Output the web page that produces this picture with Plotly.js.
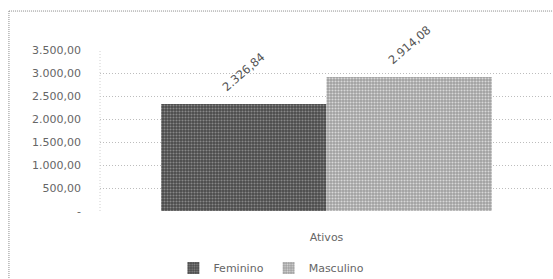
<!DOCTYPE html>
<html><head><meta charset="utf-8">
<script src="https://cdn.plot.ly/plotly-3.0.1.min.js"></script>
<style>html,body{margin:0;padding:0;background:#fff}#c{width:553px;height:279px}</style>
</head><body><div id="c"></div>
<script>
var categories = ["Ativos"];
var seriesNames = ["Feminino", "Masculino"];
var feminino = [2326.84];
var masculino = [2914.08];
var femininoLabels = ["2.326,84"];
var masculinoLabels = ["2.914,08"];
var tickVals = [0, 500, 1000, 1500, 2000, 2500, 3000, 3500];
var tickText = ["-", "500,00", "1.000,00", "1.500,00", "2.000,00", "2.500,00", "3.000,00", "3.500,00"];

var font = "'DejaVu Sans', sans-serif";
var traces = [
  {type: "bar", name: seriesNames[0], x: categories, y: feminino,
   marker: {color: "#5a5a5a", pattern: {shape: ".", fgcolor: "#888888", bgcolor: "#4a4a4a", size: 3, solidity: 0.4}},
   hoverinfo: "none"},
  {type: "bar", name: seriesNames[1], x: categories, y: masculino,
   marker: {color: "#b2b2b2", pattern: {shape: ".", fgcolor: "#d8d8d8", bgcolor: "#a0a0a0", size: 3, solidity: 0.4}},
   hoverinfo: "none"}
];

// data labels, placed at each bar top through the axes
var annotations = [];
[[feminino, femininoLabels, -83], [masculino, masculinoLabels, 83]].forEach(function (s) {
  s[0].forEach(function (v, i) {
    annotations.push({x: categories[i], y: v, xref: "x", yref: "y", text: s[1][i],
      showarrow: false, textangle: -41, xanchor: "center", yanchor: "bottom",
      xshift: s[2], yshift: 7, font: {family: font, size: 11.5, color: "#555"}});
  });
});

var layout = {
  width: 553, height: 279,
  margin: {l: 100, r: 0, t: 50, b: 68, autoexpand: false},
  paper_bgcolor: "#fff", plot_bgcolor: "#fff",
  font: {family: font, size: 11, color: "#666"},
  barmode: "group", bargap: 0.27, bargroupgap: 0,
  showlegend: true,
  legend: {orientation: "h", x: 0.162, xanchor: "left", y: -0.354, yanchor: "middle",
           font: {family: font, size: 11, color: "#666"}, itemwidth: 30, traceorder: "normal"},
  xaxis: {type: "category", showgrid: false, zeroline: false, showline: false, ticks: "",
          ticklabelstandoff: 18, tickfont: {family: font, size: 11, color: "#666"}},
  yaxis: {range: [0, 3500], tickvals: tickVals, ticktext: tickText, showgrid: true,
          gridcolor: "#bdbdbd", griddash: "1px,2px", gridwidth: 1, zeroline: false,
          showline: false, ticks: "", ticklabelstandoff: 18,
          tickfont: {family: font, size: 11, color: "#666"}},
  annotations: annotations,
  shapes: [
    {type: "line", xref: "paper", yref: "paper", x0: 0, x1: 0, y0: 0, y1: 1,
     line: {color: "#d0d0d0", width: 1, dash: "1px,2px"}},
    {type: "line", xref: "paper", yref: "paper", x0: -0.201, x1: 1, y0: 1.242, y1: 1.242,
     line: {color: "#8a8a8a", width: 1, dash: "1px,1px"}},
    {type: "line", xref: "paper", yref: "paper", x0: -0.201, x1: -0.201, y0: 1.242, y1: -0.42,
     line: {color: "#8a8a8a", width: 1, dash: "1px,1px"}}
  ]
};
Plotly.newPlot("c", traces, layout, {displayModeBar: false, staticPlot: true});
</script></body></html>
